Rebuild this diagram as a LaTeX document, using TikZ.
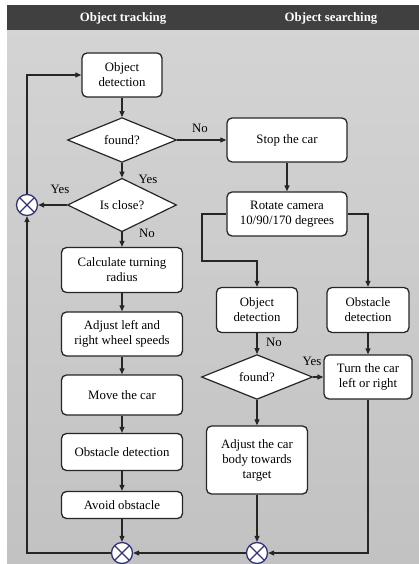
\documentclass[tikz,border=0pt]{standalone}
\usepackage{fontspec}
\setmainfont{Liberation Serif}
\usetikzlibrary{shapes.geometric,arrows.meta,positioning}

\tikzset{
  procbox/.style={draw=black!85, line width=1.3pt, rounded corners=5pt, fill=white, align=center, inner sep=2pt},
  decision/.style={diamond, draw=black!85, line width=1.2pt, fill=white, inner sep=0pt},
  sumpt/.style={circle, draw=blue!35!black!80, line width=1.3pt, fill=white, minimum size=21pt, inner sep=0pt,
    path picture={\draw[blue!35!black!80, line width=1.3pt]
      (path picture bounding box.north west) -- (path picture bounding box.south east)
      (path picture bounding box.north east) -- (path picture bounding box.south west);}},
  flow/.style={draw=black!85, line width=1.1pt, -{Triangle[length=6pt,width=5pt]}},
  lbl/.style={inner sep=0pt},
}

\begin{document}
\begin{tikzpicture}[x=1pt, y=-1pt, font=\fontsize{12.8}{15}\selectfont]
		\useasboundingbox (0,0) rectangle (419,564);
		% background and header
		\fill[black!75] (7,5) rectangle (419,31);
		\shade[top color=black!17, bottom color=black!24] (7,31) rectangle (419,564);
		\node[text=white, font=\fontsize{12.8}{15}\selectfont\bfseries] (hdrT) at (123,18) {Object tracking};
		\node[text=white, font=\fontsize{12.8}{15}\selectfont\bfseries] (hdrS) at (331,18) {Object searching};

		% tracking column
		\node[procbox, minimum width=80pt, minimum height=44pt] (detA) at (122,75) {Object\\detection};
		\node[decision, minimum width=109pt, minimum height=44pt] (foundA) at (122,140) {found?};
		\node[decision, minimum width=109pt, minimum height=43pt] (close) at (122,205) {Is close?};
		\node[sumpt] (sumL) at (27,205) {};
		\node[procbox, minimum width=121pt, minimum height=45pt] (calc) at (122,270) {Calculate turning\\radius};
		\node[procbox, minimum width=121pt, minimum height=44pt] (wheels) at (122,334) {Adjust left and\\right wheel speeds};
		\node[procbox, minimum width=121pt, minimum height=40pt] (move) at (122,395) {Move the car};
		\node[procbox, minimum width=121pt, minimum height=37pt] (obsA) at (122,452) {Obstacle detection};
		\node[procbox, minimum width=121pt, minimum height=27pt] (avoid) at (122,505) {Avoid obstacle};
		\node[sumpt] (sumA) at (122,553) {};

		% searching columns
		\node[procbox, minimum width=120pt, minimum height=44pt] (stop) at (287,140) {Stop the car};
		\node[procbox, minimum width=120pt, minimum height=44pt] (rotate) at (287,214) {Rotate camera\\10/90/170 degrees};
		\node[procbox, minimum width=81pt, minimum height=45pt] (detB) at (257,310) {Object\\detection};
		\node[procbox, minimum width=82pt, minimum height=45pt] (obsB) at (368,310) {Obstacle\\detection};
		\node[decision, minimum width=111pt, minimum height=42pt] (foundB) at (257,377) {found?};
		\node[procbox, minimum width=88pt, minimum height=44pt] (turn) at (368,377) {Turn the car\\left or right};
		\node[procbox, minimum width=101pt, minimum height=68pt] (body) at (257,460) {Adjust the car\\body towards\\target};
		\node[sumpt] (sumB) at (257,553) {};
		\coordinate (splitL) at (202,261);

		% labels
		\node[lbl] (noA) at (200,128) {No};
		\node[lbl] (yesA) at (148,179) {Yes};
		\node[lbl] (yesB) at (60,189) {Yes};
		\node[lbl] (noB) at (147,233) {No};
		\node[lbl] (noC) at (274,342) {No};
		\node[lbl] (yesC) at (312,361) {Yes};

		% connectors
		\draw[flow] (detA) -- (foundA);
		\draw[flow] (foundA) -- (stop);
		\draw[flow] (foundA) -- (close);
		\draw[flow] (close) -- (sumL);
		\draw[flow] (close) -- (calc);
		\draw[flow] (calc) -- (wheels);
		\draw[flow] (wheels) -- (move);
		\draw[flow] (move) -- (obsA);
		\draw[flow] (obsA) -- (avoid);
		\draw[flow] (avoid) -- (sumA);
		\draw[flow] (stop) -- (rotate);
		\draw[flow] (rotate.west) -| (splitL) -| (detB);
		\draw[flow] (rotate.east) -| (obsB);
		\draw[flow] (detB) -- (foundB);
		\draw[flow] (obsB) -- (turn);
		\draw[flow] (foundB) -- (turn);
		\draw[flow] (foundB) -- (body);
		\draw[flow] (body) -- (sumB);
		\draw[flow] (turn) |- (sumB);
		\draw[flow] (sumB) -- (sumA);
		\draw[flow] (sumA) -| (sumL);
		\draw[flow] (sumL) |- (detA);
	\end{tikzpicture}
\end{document}
